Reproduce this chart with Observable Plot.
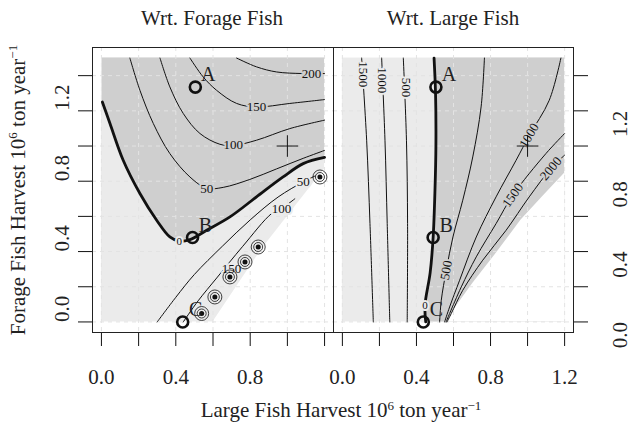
<!DOCTYPE html>
<html><head><meta charset="utf-8">
<script src="https://cdn.jsdelivr.net/npm/d3@7"></script>
<script src="https://cdn.jsdelivr.net/npm/@observablehq/plot@0.6"></script>
<style>
body{margin:0;background:#fff;}
#wrap{position:relative;width:631px;height:429px;overflow:hidden;font-family:"Liberation Serif",serif;color:#222;}
.p{position:absolute;top:0;}
.t{position:absolute;font-size:21px;white-space:nowrap;line-height:1;}
.t sup{font-size:0.62em;vertical-align:0.55em;line-height:0;}
</style></head><body>
<div id="wrap">
  <div class="p" id="left"></div>
  <div class="p" id="right"></div>
  <div class="t" style="left:212px;top:8px;transform:translateX(-50%)">Wrt. Forage Fish</div>
  <div class="t" style="left:453px;top:8px;transform:translateX(-50%)">Wrt. Large Fish</div>
  <div class="t" style="left:341px;top:400px;transform:translateX(-50%)">Large Fish Harvest 10<sup>6</sup> ton year<sup>−1</sup></div>
  <div class="t" style="left:18px;top:190px;transform:translate(-50%,-50%) rotate(-90deg)">Forage Fish Harvest 10<sup>6</sup> ton year<sup>−1</sup></div>
</div>
<script>
// ---- axes ----
const xTicks = [0, 0.2, 0.4, 0.6, 0.8, 1.0, 1.2];
const yTicks = [0, 0.2, 0.4, 0.6, 0.8, 1.0, 1.2, 1.4];
const xLabelsLeft = [0, 0.4, 0.8];
const xLabelsRight = [0, 0.4, 0.8, 1.2];
const yLabels = [0, 0.4, 0.8, 1.2];
const harvestX = [0, 1.2];
const harvestY = [0, 1.5];

// ---- marked points ----
const pointNames = ["A", "B", "C"];
const pointX = [0.505, 0.49, 0.437];
const pointY = [1.335, 0.48, 0.0];
const msyX = [1.0];
const msyY = [1.0];

// ---- left panel: derivative wrt forage fish ----
const fZero = [[0.005,1.25],[0.046,1.128],[0.117,0.919],[0.207,0.73],[0.297,0.578],[0.368,0.483],[0.418,0.459],[0.476,0.468],[0.566,0.521],[0.691,0.597],[0.834,0.711],[0.977,0.824],[1.085,0.9],[1.2,0.935]];
const fPos50 = [[0.153,1.5],[0.207,1.317],[0.279,1.128],[0.368,0.957],[0.476,0.824],[0.566,0.76],[0.655,0.765],[0.798,0.81],[0.942,0.87],[1.085,0.93],[1.2,0.975]];
const fPos100 = [[0.315,1.5],[0.368,1.336],[0.44,1.185],[0.53,1.071],[0.637,1.01],[0.709,1.003],[0.834,1.033],[1.013,1.099],[1.2,1.147]];
const fPos150 = [[0.476,1.5],[0.547,1.393],[0.619,1.317],[0.727,1.242],[0.834,1.222],[1.013,1.242],[1.2,1.264]];
const fPos200 = [[0.727,1.5],[0.834,1.45],[0.942,1.421],[1.08,1.412],[1.2,1.412]];
const fNeg50 = [[0.30,0.0],[0.40,0.14],[0.5,0.27],[0.65,0.43],[0.8,0.58],[0.95,0.71],[1.085,0.796],[1.15,0.83]];
const fNeg100 = [[0.44,0.0],[0.52,0.12],[0.62,0.25],[0.76,0.43],[0.915,0.616],[0.969,0.645],[1.04,0.7]];
const fLabelsUpper = [["200",1.13,1.412],["150",0.834,1.222],["100",0.709,1.005],["50",0.566,0.758]];
const fLabelsLower = [["50",1.085,0.796],["100",0.969,0.645],["150",0.70,0.30]];
const fZeroLabel = [["0",0.418,0.459]];
const fBlobs = [[0.539,0.048],[0.61,0.142],[0.691,0.256],[0.772,0.341],[0.843,0.426],[1.175,0.824]];
const fEdge = [[0.6,0.0],[0.86,0.41],[1.2,0.87]];

// ---- right panel: derivative wrt large fish ----
const lZero = [[0.45,0.0],[0.446,0.095],[0.474,0.28],[0.49,0.48],[0.5,0.75],[0.505,1.0],[0.503,1.3],[0.495,1.5]];
const lNeg1500 = [[0.167,0],[0.149,0.559],[0.131,1.033],[0.104,1.5]];
const lNeg1000 = [[0.256,0],[0.242,0.559],[0.23,1.033],[0.212,1.5]];
const lNeg500 = [[0.35,0],[0.352,0.559],[0.346,1.033],[0.329,1.5]];
const lPos500 = [[0.525,0.0],[0.534,0.123],[0.561,0.294],[0.597,0.483],[0.65,0.692],[0.704,0.938],[0.749,1.222],[0.767,1.5]];
const lPos1000 = [[0.552,0],[0.579,0.085],[0.633,0.237],[0.723,0.483],[0.83,0.711],[0.938,0.919],[1.009,1.06],[1.117,1.26],[1.18,1.5]];
const lPos1500 = [[0.56,0],[0.579,0.048],[0.642,0.199],[0.723,0.37],[0.83,0.559],[0.92,0.72],[1.099,0.957],[1.2,1.071]];
const lPos2000 = [[0.565,0],[0.588,0.048],[0.65,0.18],[0.758,0.351],[0.884,0.521],[1.009,0.711],[1.126,0.872],[1.2,0.948]];
const lLabelsLeft = [["1500",0.113,1.408,90],["1000",0.217,1.374,90],["500",0.342,1.333,90]];
const lLabelsRight = [["500",0.561,0.294,-80],["1000",1.009,1.06,-60],["1500",0.92,0.72,-55],["2000",1.126,0.872,-50]];
const lZeroLabel = [["0",0.446,0.095,0]];
const lEdge = [[0.57,0],[0.6,0.067],[0.704,0.218],[0.83,0.389],[0.964,0.578],[1.081,0.711],[1.2,0.845]];

// ---- styling ----
const LIGHT = "#ebebeb", DARK = "#cfcfcf", GRID = "#e3e3e3", INK = "#111";
const FONT = "Liberation Serif, serif";
const points = pointNames.map((n, i) => ({n, x: pointX[i], y: pointY[i]}));
const msy = msyX.map((x, i) => ({x, y: msyY[i]}));
const box = [{x1: harvestX[0], x2: harvestX[1], y1: harvestY[0], y2: harvestY[1]}];
const X = d => d[0], Y = d => d[1];
const curve = "catmull-rom";

function grid() {
  return [
    Plot.ruleX(xTicks, {stroke: GRID, strokeDasharray: "4,4"}),
    Plot.ruleY(yTicks, {stroke: GRID, strokeDasharray: "4,4"}),
  ];
}
function axes(xLabels, side) {
  return [
    Plot.axisX(xTicks, {anchor: "bottom", tickSize: 14, tickFormat: () => "", label: null, stroke: INK}),
    Plot.text(xLabels, {x: d => d, frameAnchor: "bottom", dy: 51, text: d => d.toFixed(1), fontSize: 21, fill: "#222"}),
    Plot.axisY(yTicks, {anchor: side, tickSize: 14, tickFormat: () => "", label: null, stroke: INK}),
    Plot.text(yLabels, {y: d => d, frameAnchor: side, dx: side === "left" ? -30 : 47, rotate: -90, text: d => d.toFixed(1), fontSize: 21, fill: "#222"}),
    Plot.frame({stroke: "#222", strokeWidth: 1})
  ];
}
function pointMarks() {
  return [
    Plot.dot(points, {x: "x", y: "y", r: 5.5, stroke: INK, strokeWidth: 2.6, fill: "none"}),
    Plot.text(points, {x: "x", y: "y", text: "n", dx: 13, dy: -12, fontSize: 20, fill: "#222"}),
    Plot.dot(msy, {x: "x", y: "y", symbol: "plus", r: 7, stroke: INK, strokeWidth: 1})
  ];
}
const thin = (d) => Plot.line(d, {x: X, y: Y, stroke: INK, strokeWidth: 1, curve});
const labels = (d, bg, size) => Plot.text(d, {x: d => d[1], y: d => d[2], text: d => d[0], rotate: d => d[3] || 0, fontSize: size, fill: "#111", stroke: bg, strokeWidth: 4, paintOrder: "stroke"});

const base = {
  height: 429,
  marginTop: 47, marginBottom: 97,
  x: {domain: [-0.048, 1.248], axis: null},
  y: {domain: [-0.06, 1.56], axis: null},
  style: {fontFamily: FONT, fontSize: "21px", background: "transparent", overflow: "visible"}
};

const left = Plot.plot({
  ...base, width: 334, marginLeft: 92, marginRight: 1,
  marks: [
    Plot.rect(box, {x1: "x1", x2: "x2", y1: "y1", y2: "y2", fill: LIGHT}),
    Plot.areaY(fZero, {x: X, y1: Y, y2: harvestY[1], fill: DARK, curve}),
    Plot.areaY(fEdge, {x: X, y1: harvestY[0], y2: Y, fill: "white"}),
    ...grid(),
    thin(fPos50), thin(fPos100), thin(fPos150), thin(fPos200),
    thin(fNeg50), thin(fNeg100),
    Plot.line(fZero, {x: X, y: Y, stroke: INK, strokeWidth: 2.8, curve}),
    labels(fLabelsUpper, DARK, 13),
    labels(fLabelsLower, LIGHT, 13),
    labels(fZeroLabel, LIGHT, 11),
    Plot.dot(fBlobs, {x: X, y: Y, r: 7, stroke: INK, strokeWidth: 0.8, fill: "none"}),
    Plot.dot(fBlobs, {x: X, y: Y, r: 4.5, stroke: INK, strokeWidth: 0.8, fill: "none"}),
    Plot.dot(fBlobs, {x: X, y: Y, r: 2.5, fill: INK}),
    ...pointMarks(),
    ...axes(xLabelsLeft, "left")
  ]
});
const right = Plot.plot({
  ...base, width: 298, marginLeft: 0, marginRight: 58,
  marks: [
    Plot.rect(box, {x1: "x1", x2: "x2", y1: "y1", y2: "y2", fill: LIGHT}),
    Plot.areaX(lZero, {y: Y, x1: X, x2: harvestX[1], fill: DARK, curve}),
    Plot.areaY(lEdge, {x: X, y1: harvestY[0], y2: Y, fill: "white"}),
    ...grid(),
    thin(lNeg1500), thin(lNeg1000), thin(lNeg500),
    thin(lPos500), thin(lPos1000), thin(lPos1500), thin(lPos2000),
    Plot.line(lZero, {x: X, y: Y, stroke: INK, strokeWidth: 2.8, curve}),
    labels(lLabelsLeft, LIGHT, 13),
    labels(lLabelsRight, DARK, 13),
    labels(lZeroLabel, LIGHT, 11),
    ...pointMarks(),
    ...axes(xLabelsRight, "right")
  ]
});
document.getElementById("left").append(left);
const r = document.getElementById("right");
r.style.left = "333px";
r.append(right);
</script>
</body></html>
